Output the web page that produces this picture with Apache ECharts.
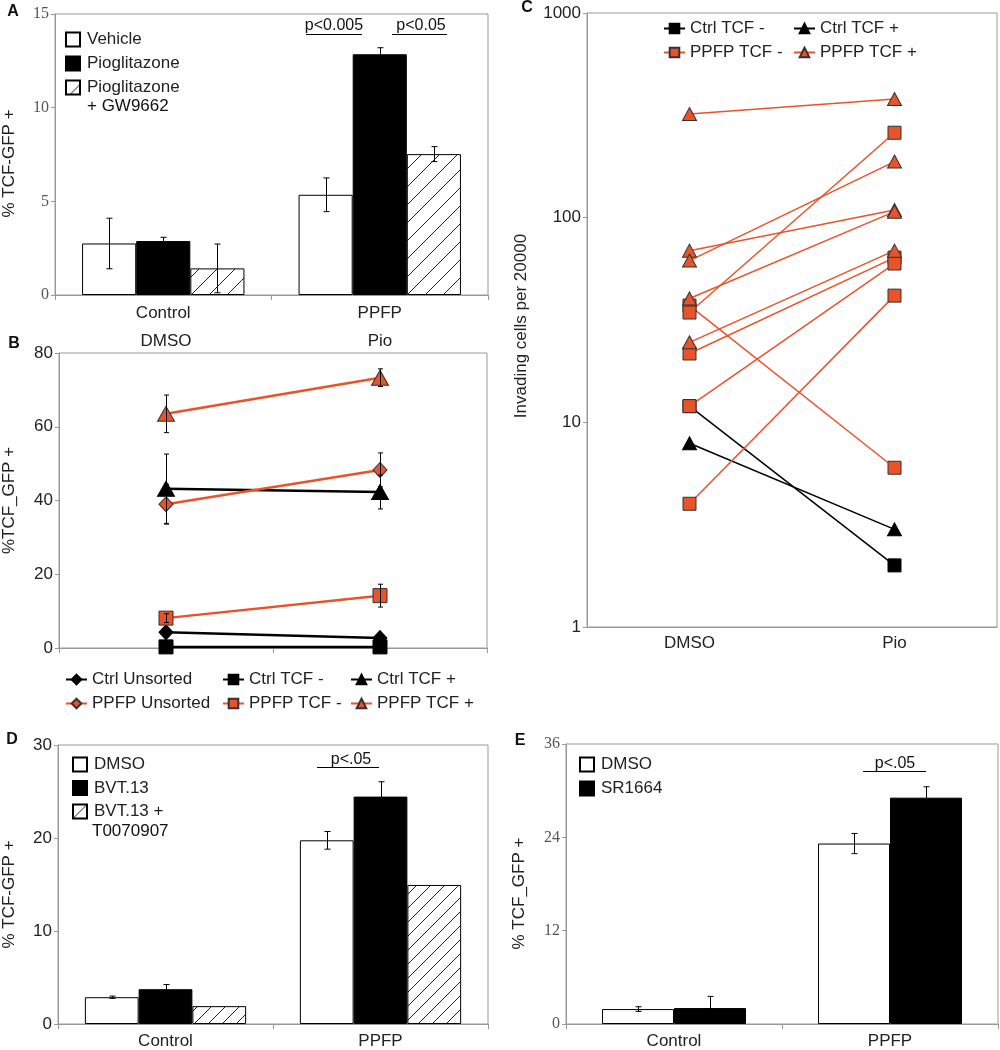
<!DOCTYPE html>
<html><head><meta charset="utf-8">
<script src="https://cdn.jsdelivr.net/npm/echarts@6/dist/echarts.min.js"></script>
<style>html,body{margin:0;padding:0;background:#fff}#c{width:1000px;height:1050px}</style>
</head><body><div id="c"></div>
<script>
// ---------- DATA ----------
const barCategories = ['Control', 'PPFP'];
// Panel A
const aSeriesNames = ['Vehicle', 'Pioglitazone', 'Pioglitazone\n+ GW9662'];
const aVehicle = [2.75, 5.35];
const aVehicleErr = [1.35, 0.9];
const aPio = [2.88, 12.85];
const aPioErr = [0.2, 0.35];
const aPioGW = [1.42, 7.52];
const aPioGWErr = [1.3, 0.4];
const aTicks = [0, 5, 10, 15];
const aPLabels = ['p<0.005', 'p<0.05'];
// Panel B
const bCategories = ['DMSO', 'Pio'];
const bSeriesNames = ['Ctrl Unsorted', 'Ctrl TCF -', 'Ctrl TCF +', 'PPFP Unsorted', 'PPFP TCF -', 'PPFP TCF +'];
const bCtrlUnsorted = [4.3, 2.7];
const bCtrlUnsortedErr = [0, 0];
const bCtrlTcfNeg = [0.3, 0.3];
const bCtrlTcfNegErr = [0, 0];
const bCtrlTcfPos = [43.2, 42.3];
const bCtrlTcfPosErr = [9.4, 4.6];
const bPpfpUnsorted = [39.0, 48.3];
const bPpfpUnsortedErr = [5.4, 4.6];
const bPpfpTcfNeg = [8.1, 14.2];
const bPpfpTcfNegErr = [1.2, 3.1];
const bPpfpTcfPos = [63.5, 73.3];
const bPpfpTcfPosErr = [5.1, 2.4];
const bTicks = [0, 20, 40, 60, 80];
// Panel C (each pair = one sample, DMSO -> Pio)
const cCategories = ['DMSO', 'Pio'];
const cSeriesNames = ['Ctrl TCF -', 'Ctrl TCF +', 'PPFP TCF -', 'PPFP TCF +'];
const cCtrlTcfNeg = [[12, 2]];
const cCtrlTcfPos = [[7.9, 3]];
const cPpfpTcfNeg = [[37.2, 6], [34.4, 260], [21.7, 63.8], [12, 59.7], [4, 41.6]];
const cPpfpTcfPos = [[321, 380], [69, 109], [61.7, 188], [40.3, 107], [24.6, 69]];
const cTicks = [1, 10, 100, 1000];
// Panel D
const dSeriesNames = ['DMSO', 'BVT.13', 'BVT.13 +\nT0070907'];
const dDmso = [2.88, 19.75];
const dDmsoErr = [0.12, 0.95];
const dBvt = [3.74, 24.45];
const dBvtErr = [0.5, 1.6];
const dBvtT = [1.92, 14.95];
const dBvtTErr = [0, 0];
const dTicks = [0, 10, 20, 30];
const dPLabel = 'p<.05';
// Panel E
const eSeriesNames = ['DMSO', 'SR1664'];
const eDmso = [1.92, 23.2];
const eDmsoErr = [0.3, 1.3];
const eSr = [2.05, 29.1];
const eSrErr = [1.5, 1.4];
const eTicks = [0, 12, 24, 36];
const ePLabel = 'p<.05';

// ---------- STYLE HELPERS ----------
const SANS = 'Liberation Sans';
const SERIF = 'Liberation Serif';
const ORANGE = '#E9532A';
const FRAME = '#999';
const TXT = '#222';

function hatch(step) {
  const c = document.createElement('canvas');
  c.width = step; c.height = step;
  const g = c.getContext('2d');
  g.fillStyle = '#fff'; g.fillRect(0, 0, step, step);
  g.strokeStyle = '#222'; g.lineWidth = 1;
  g.beginPath();
  g.moveTo(-1, step + 1); g.lineTo(step + 1, -1);
  g.moveTo(-1, 1); g.lineTo(1, -1);
  g.moveTo(step - 1, step + 1); g.lineTo(step + 1, step - 1);
  g.stroke();
  return c;
}

function bar(name, data, xi, yi, fill, gap) {
  return { type: 'bar', name, data, xAxisIndex: xi, yAxisIndex: yi, barGap: '0%', barCategoryGap: gap,
    itemStyle: { color: fill, borderColor: '#000', borderWidth: 1 }, z: 2 };
}

function errorBars(xi, yi, vals, errs, idx, n, gap, capHalf) {
  return {
    type: 'custom', xAxisIndex: xi, yAxisIndex: yi, z: 10, silent: true,
    data: vals.map((v, i) => [i, v, errs[i]]),
    encode: { x: 0, y: 1 },
    renderItem: function (params, api) {
      const i = api.value(0), v = api.value(1), e = api.value(2);
      if (!e) return null;
      const cw = api.size([1, 0])[0];
      const bw = cw * (1 - gap) / n;
      const x = Math.round(api.coord([i, v])[0] + (idx - (n - 1) / 2) * bw) + 0.5;
      const yt = api.coord([i, v + e])[1], yb = api.coord([i, v - e])[1];
      const st = { stroke: '#000', lineWidth: 1 };
      return { type: 'group', children: [
        { type: 'line', shape: { x1: x, y1: yt, x2: x, y2: yb }, style: st },
        { type: 'line', shape: { x1: x - capHalf, y1: yt, x2: x + capHalf, y2: yt }, style: st },
        { type: 'line', shape: { x1: x - capHalf, y1: yb, x2: x + capHalf, y2: yb }, style: st }
      ] };
    }
  };
}

function lineSeries(name, data, xi, yi, color, symbol, size, border, lw, z) {
  return { type: 'line', name, data, xAxisIndex: xi, yAxisIndex: yi, symbol, symbolSize: size,
    showAllSymbol: true, lineStyle: { color, width: lw }, itemStyle: { color, borderColor: border, borderWidth: 1 },
    z: z || 5 };
}

function valueY(gi, ticks, name, gap, pad, serif) {
  return { gridIndex: gi, type: 'value', min: ticks[0], max: ticks[ticks.length - 1], interval: ticks[1] - ticks[0],
    axisLine: { show: true, lineStyle: { color: FRAME } },
    axisTick: { show: true, length: 4, lineStyle: { color: FRAME } },
    splitLine: { show: false },
    axisLabel: { fontFamily: serif ? SERIF : SANS, fontSize: serif ? 16 : 17, color: serif ? '#555' : TXT, margin: 6 },
    name, nameLocation: 'middle', nameGap: gap,
    nameTextStyle: { fontFamily: SANS, fontSize: 17, color: TXT, padding: [0, pad, 0, 0] } };
}

function catX(gi, data, opts) {
  return Object.assign({ gridIndex: gi, type: 'category', data,
    axisLine: { show: true, lineStyle: { color: FRAME } },
    axisTick: { show: true, length: 5, lineStyle: { color: FRAME } },
    axisLabel: { fontFamily: SANS, fontSize: 17, color: TXT, margin: 8 } }, opts || {});
}

function legendBox(left, top, data, gap) {
  return { left, top, orient: 'vertical', padding: 0, itemGap: gap, itemWidth: 14, itemHeight: 14, icon: 'rect',
    data, selectedMode: false, formatter: n => n.split('\n')[0],
    textStyle: { fontFamily: SANS, fontSize: 17, color: TXT, padding: [0, 0, 0, 2] } };
}
function legendLine(left, top, data) {
  return { left, top, orient: 'vertical', padding: 0, itemGap: 7, itemWidth: 21, itemHeight: 12,
    data, selectedMode: false,
    textStyle: { fontFamily: SANS, fontSize: 17, color: TXT } };
}

const hatchA = hatch(18);
const hatchD = hatch(14);

// ---------- SERIES ----------
const series = [];
// A
const gapA = 0.25;
series.push(bar(aSeriesNames[0], aVehicle, 0, 0, '#fff', '25%'));
series.push(bar(aSeriesNames[1], aPio, 0, 0, '#000', '25%'));
series.push(bar(aSeriesNames[2], aPioGW, 0, 0, { image: hatchA, repeat: 'repeat' }, '25%'));
series.push(errorBars(0, 0, aVehicle, aVehicleErr, 0, 3, gapA, 3));
series.push(errorBars(0, 0, aPio, aPioErr, 1, 3, gapA, 3));
series.push(errorBars(0, 0, aPioGW, aPioGWErr, 2, 3, gapA, 3));
// B
const bVals = [bCtrlUnsorted, bCtrlTcfNeg, bCtrlTcfPos, bPpfpUnsorted, bPpfpTcfNeg, bPpfpTcfPos];
const bErrs = [bCtrlUnsortedErr, bCtrlTcfNegErr, bCtrlTcfPosErr, bPpfpUnsortedErr, bPpfpTcfNegErr, bPpfpTcfPosErr];
const bSym = ['diamond', 'rect', 'triangle', 'diamond', 'rect', 'triangle'];
const bSize = [[14, 15], 14, [17, 15], [14, 15], 14, [17, 15]];
bVals.forEach((v, k) => {
  const ctrl = k < 3;
  series.push(lineSeries(bSeriesNames[k], v, 1, 1, ctrl ? '#000' : ORANGE, bSym[k], bSize[k], ctrl ? '#000' : '#333', 2.5, ctrl ? 4 : 5));
});
bErrs.forEach((e, k) => series.push(errorBars(1, 1, bVals[k], e, 0, 1, 0, 2.5)));
// C
cCtrlTcfNeg.forEach(p => series.push(lineSeries(cSeriesNames[0], p, 3, 2, '#000', 'rect', 13, '#000', 1.5, 3)));
cCtrlTcfPos.forEach(p => series.push(lineSeries(cSeriesNames[1], p, 3, 2, '#000', 'triangle', [14, 13], '#000', 1.5, 3)));
cPpfpTcfNeg.forEach(p => series.push(lineSeries(cSeriesNames[2], p, 3, 2, ORANGE, 'rect', 13, '#333', 1.5, 4)));
cPpfpTcfPos.forEach(p => series.push(lineSeries(cSeriesNames[3], p, 3, 2, ORANGE, 'triangle', [14, 13], '#333', 1.5, 4)));
// D
series.push(bar(dSeriesNames[0], dDmso, 4, 3, '#fff', '25%'));
series.push(bar(dSeriesNames[1], dBvt, 4, 3, '#000', '25%'));
series.push(bar(dSeriesNames[2], dBvtT, 4, 3, { image: hatchD, repeat: 'repeat' }, '25%'));
series.push(errorBars(4, 3, dDmso, dDmsoErr, 0, 3, gapA, 3));
series.push(errorBars(4, 3, dBvt, dBvtErr, 1, 3, gapA, 3));
series.push(errorBars(4, 3, dBvtT, dBvtTErr, 2, 3, gapA, 3));
// E
series.push(bar(eSeriesNames[0], eDmso, 5, 4, '#fff', '33.33%'));
series.push(bar(eSeriesNames[1], eSr, 5, 4, '#000', '33.33%'));
series.push(errorBars(5, 4, eDmso, eDmsoErr, 0, 2, 1 / 3, 3));
series.push(errorBars(5, 4, eSr, eSrErr, 1, 2, 1 / 3, 3));

// ---------- GRAPHIC (labels & annotations) ----------
function txt(text, x, y, font, align) {
  return { type: 'text', silent: true, style: { text, x, y, font, fill: '#111', align: align || 'left', verticalAlign: 'middle' } };
}
function hline(x1, x2, y) {
  return { type: 'line', silent: true, shape: { x1, y1: y + 0.5, x2, y2: y + 0.5 }, style: { stroke: '#000', lineWidth: 1 } };
}
const LET = 'bold 16px "Liberation Sans"';
const P16 = '16px "Liberation Sans"';
const graphic = [
  txt('A', 13, 12, LET, 'center'),
  txt('B', 14, 344, LET, 'center'),
  txt('C', 527, 8, LET, 'center'),
  txt('D', 12, 740, LET, 'center'),
  txt('E', 520, 741, LET, 'center'),
  txt(aSeriesNames[2].split('\n')[1], 87, 106, '17px "Liberation Sans"'),
  txt(dSeriesNames[2].split('\n')[1], 92, 831, '17px "Liberation Sans"'),
  txt(aPLabels[0], 334, 26, P16, 'center'), hline(306, 362, 34),
  txt(aPLabels[1], 421, 26, P16, 'center'), hline(392, 447, 34),
  txt(dPLabel, 351, 760, P16, 'center'), hline(317, 379, 767),
  txt(ePLabel, 895, 764, P16, 'center'), hline(863, 926, 771)
];

// ---------- OPTION ----------
const gridBase = { show: true, borderColor: FRAME, borderWidth: 1, backgroundColor: 'transparent' };
const option = {
  animation: false,
  backgroundColor: '#fff',
  textStyle: { fontFamily: SANS },
  grid: [
    Object.assign({ left: 55, top: 14, width: 433, height: 281 }, gridBase),
    Object.assign({ left: 57, top: 353, width: 430, height: 295 }, gridBase),
    Object.assign({ left: 587, top: 13, width: 410, height: 614 }, gridBase),
    Object.assign({ left: 58, top: 745, width: 430, height: 281 }, gridBase),
    Object.assign({ left: 566, top: 744, width: 432, height: 281 }, gridBase)
  ],
  xAxis: [
    catX(0, barCategories, { axisLabel: { fontFamily: SANS, fontSize: 17, color: TXT, margin: 10 } }),
    catX(1, bCategories, { axisLabel: { show: false } }),
    catX(1, bCategories, { position: 'top', axisLine: { show: false }, axisTick: { show: false },
      axisLabel: { fontFamily: SANS, fontSize: 17, color: TXT, margin: 3 } }),
    catX(2, cCategories, { axisTick: { show: false } }),
    catX(3, barCategories, { axisLabel: { fontFamily: SANS, fontSize: 17, color: TXT, margin: 9 } }),
    catX(4, barCategories, { axisLabel: { fontFamily: SANS, fontSize: 17, color: TXT, margin: 9 } })
  ],
  yAxis: [
    valueY(0, aTicks, '% TCF-GFP +', 37, 18, true),
    valueY(1, bTicks, '%TCF_GFP +', 41, 0, false),
    { gridIndex: 2, type: 'log', logBase: 10, min: cTicks[0], max: cTicks[cTicks.length - 1],
      axisLine: { show: true, lineStyle: { color: FRAME } },
      axisTick: { show: true, length: 4, lineStyle: { color: FRAME } },
      minorTick: { show: false }, splitLine: { show: false },
      axisLabel: { fontFamily: SANS, fontSize: 17, color: TXT, margin: 6, formatter: v => String(Math.round(v)) },
      name: 'Invading cells per 20000', nameLocation: 'middle', nameGap: 57,
      nameTextStyle: { fontFamily: SANS, fontSize: 17, color: TXT, padding: [0, 12, 0, 0] } },
    valueY(3, dTicks, '% TCF-GFP +', 40, 20, false),
    valueY(4, eTicks, '% TCF_GFP +', 38, 19, true)
  ],
  legend: [
    legendBox(65, 31, aSeriesNames, 7),
    legendLine(65, 671, [bSeriesNames[0], bSeriesNames[3]]),
    legendLine(222, 671, [bSeriesNames[1], bSeriesNames[4]]),
    legendLine(350, 671, [bSeriesNames[2], bSeriesNames[5]]),
    legendLine(663, 20, [cSeriesNames[0], cSeriesNames[2]]),
    legendLine(793, 20, [cSeriesNames[1], cSeriesNames[3]]),
    legendBox(72, 756, dSeriesNames, 6.5),
    legendBox(579, 756, eSeriesNames, 7)
  ],
  series,
  graphic
};
const chart = echarts.init(document.getElementById('c'), null, { renderer: 'canvas' });
chart.setOption(option);
</script></body></html>
